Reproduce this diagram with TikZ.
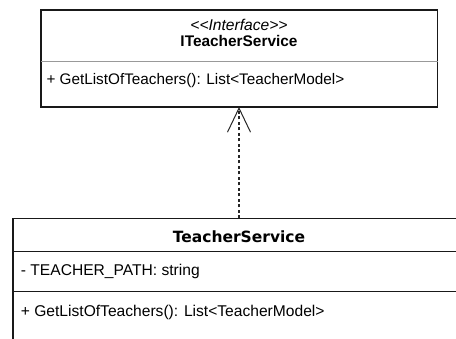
\documentclass[tikz,border=0pt]{standalone}
\usepackage{fontspec}
\setmainfont{Liberation Sans}
\newfontfamily\classfont{DejaVu Sans}
\usetikzlibrary{arrows.meta}
\begin{document}
\begin{tikzpicture}[x=1pt,y=-1pt,
  umltext/.style={inner sep=0pt, anchor=base, font=\fontsize{15.3}{18}\selectfont},
  frame/.style={line width=1.2pt, draw=black!90},
  realize/.style={line width=1.2pt, draw=black!85, dash pattern=on 3pt off 2.5pt,
    -{Straight Barb[length=24pt,width=23pt,line width=1pt]}}]
\useasboundingbox (0,0) rectangle (456,339);
% interface box
\draw[frame] (41,10) rectangle (437.5,107);
\draw[line width=0.9pt, draw=black!40] (41,61) -- (437.5,61);
\node[umltext, font=\fontsize{15.6}{18}\selectfont\itshape] (stereo) at (239,30.5) {<{}<Interface>{}>};
\node[umltext, font=\fontsize{15.4}{18}\selectfont\bfseries] (iname) at (239,46.7) {ITeacherService};
\node[umltext, anchor=base west] (imethod) at (46.3,84.3) {+ GetListOfTeachers(): List<TeacherModel>};
\coordinate (itop) at (239,107);
% class box (runs on past the right and bottom edges)
\draw[frame] (457,218.3) -- (13,218.3) -- (13,340);
\draw[frame] (13,251.7) -- (457,251.7);
\draw[frame] (13,291.7) -- (457,291.7);
\node[umltext, font=\fontsize{15.5}{18}\classfont\bfseries] (cname) at (239,242.3) {TeacherService};
\node[umltext, anchor=base west, font=\fontsize{15.6}{18}\selectfont] (attr) at (20.7,276) {- TEACHER\_PATH: string};
\node[umltext, anchor=base west, font=\fontsize{15.6}{18}\selectfont] (cmethod) at (20.7,316.6) {+ GetListOfTeachers(): List<TeacherModel>};
\coordinate (ctop) at (239,218.3);
% realization arrow
\draw[realize] (ctop) -- (itop);
\end{tikzpicture}
\end{document}
